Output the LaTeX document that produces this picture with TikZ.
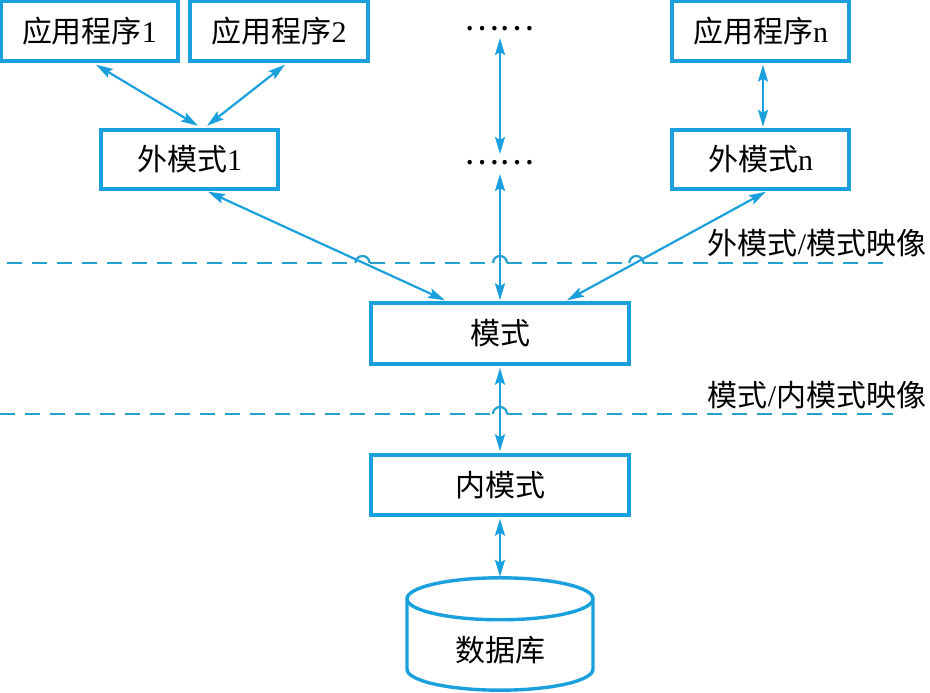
\documentclass[tikz,border=0pt]{standalone}
\usepackage{fontspec}
\setmainfont{Liberation Serif}
\newfontfamily\cjk{Noto Sans CJK SC}
\usetikzlibrary{arrows.meta,calc}
\definecolor{lblue}{RGB}{27,160,222}
\definecolor{dblue}{RGB}{38,160,205}
\newcommand{\zh}[1]{{\cjk #1}}
\begin{document}
\begin{tikzpicture}[x=1pt,y=1pt,
  box/.style={draw=lblue, line width=3.4pt, minimum width=177pt, minimum height=60pt, inner sep=0pt, font=\fontsize{30}{34}\selectfont},
  wbox/.style={box, minimum width=258pt},
  txt/.style={inner sep=0pt, font=\fontsize{30}{34}\selectfont},
  dotsty/.style={inner sep=0pt, font=\fontsize{33}{34}\selectfont},
  lbl/.style={inner sep=0pt, font=\fontsize{30}{34}\selectfont},
  link/.style={draw=lblue, line width=2.2pt, {Stealth[length=17pt,width=10pt,inset=3pt]}-{Stealth[length=17pt,width=10pt,inset=3pt]}},
  dline/.style={draw=dblue, line width=2.2pt, dash pattern=on 15pt off 10pt},
  hop/.style={draw=dblue, line width=2.2pt},
  cyl/.style={draw=lblue, line width=3.4pt}
]
\useasboundingbox (0,0) rectangle (930,693);
% boxes
\node[box] (app1) at (89.5,662) {\zh{应用程序}1};
\node[box, minimum width=178pt] (app2) at (279,662) {\zh{应用程序}2};
\node[box] (appn) at (760.5,662) {\zh{应用程序}n};
\node[box, minimum height=59pt] (ext1) at (189.5,533.5) {\zh{外模式}1};
\node[box, minimum height=59pt] (extn) at (760.5,533.5) {\zh{外模式}n};
\node[dotsty] (dots1) at (499,664) {\zh{……}};
\node[dotsty] (dots2) at (499,530) {\zh{……}};
\node[wbox, minimum height=61pt] (schema) at (500,359.5) {\zh{模式}};
\node[wbox] (internal) at (500,208) {\zh{内模式}};
% database cylinder
\node[minimum width=186pt, minimum height=112pt, inner sep=0pt] (db) at (500,59) {};
\draw[cyl] ($(db.north)+(0,-21)$) ellipse [x radius=93, y radius=21];
\draw[cyl] ($(db.north)+(-93,-21)$) -- ($(db.south)+(-93,21)$)
  arc[start angle=180, end angle=360, x radius=93, y radius=21] -- ($(db.north)+(93,-21)$);
\node[txt] (dbl) at ($(db.center)+(0,-16)$) {\zh{数据库}};
% mapping labels
\node[lbl] (m1) at (817,450) {\zh{外模式}/\zh{模式映像}};
\node[lbl] (m2) at (817,298) {\zh{模式}/\zh{内模式映像}};
% dashed lines with hops
\draw[dline] (7,430) -- (355.5,430);
\draw[hop] (355.5,430) arc[start angle=180, end angle=0, radius=7];
\draw[dline] (369.5,430) -- (493,430);
\draw[hop] (493,430) arc[start angle=180, end angle=0, radius=7];
\draw[dline] (507,430) -- (629.3,430);
\draw[hop] (629.3,430) arc[start angle=180, end angle=0, radius=7];
\draw[dline] (643.3,430) -- (893,430);
\draw[dline] (0,279) -- (493,279);
\draw[hop] (493,279) arc[start angle=180, end angle=0, radius=7];
\draw[dline] (507,279) -- (893,279);
% connectors
\draw[link] ($(app1.south)+(6.5,-2)$) -- ($(ext1.north)+(8.5,2.5)$);
\draw[link] ($(app2.south)+(6,-2)$) -- ($(ext1.north)+(17.5,2.5)$);
\draw[link] ($(appn.south)+(2.5,-2)$) -- ($(extn.north)+(2.5,1.5)$);
\draw[link] ($(dots1.center)+(1,-9)$) -- ($(dots2.center)+(1,9)$);
\draw[link] ($(dots2.center)+(1,-11)$) -- ($(schema.north)+(0,1)$);
\draw[link] ($(ext1.south)+(18.5,-1)$) -- ($(schema.north)+(-55,1)$);
\draw[link] ($(extn.south)+(5.5,-1)$) -- ($(schema.north)+(67,1)$);
\draw[link] ($(schema.south)+(0,-2)$) -- ($(internal.north)+(0,2)$);
\draw[link] ($(internal.south)+(0,-2)$) -- ($(db.north)+(0,1)$);
\end{tikzpicture}
\end{document}
